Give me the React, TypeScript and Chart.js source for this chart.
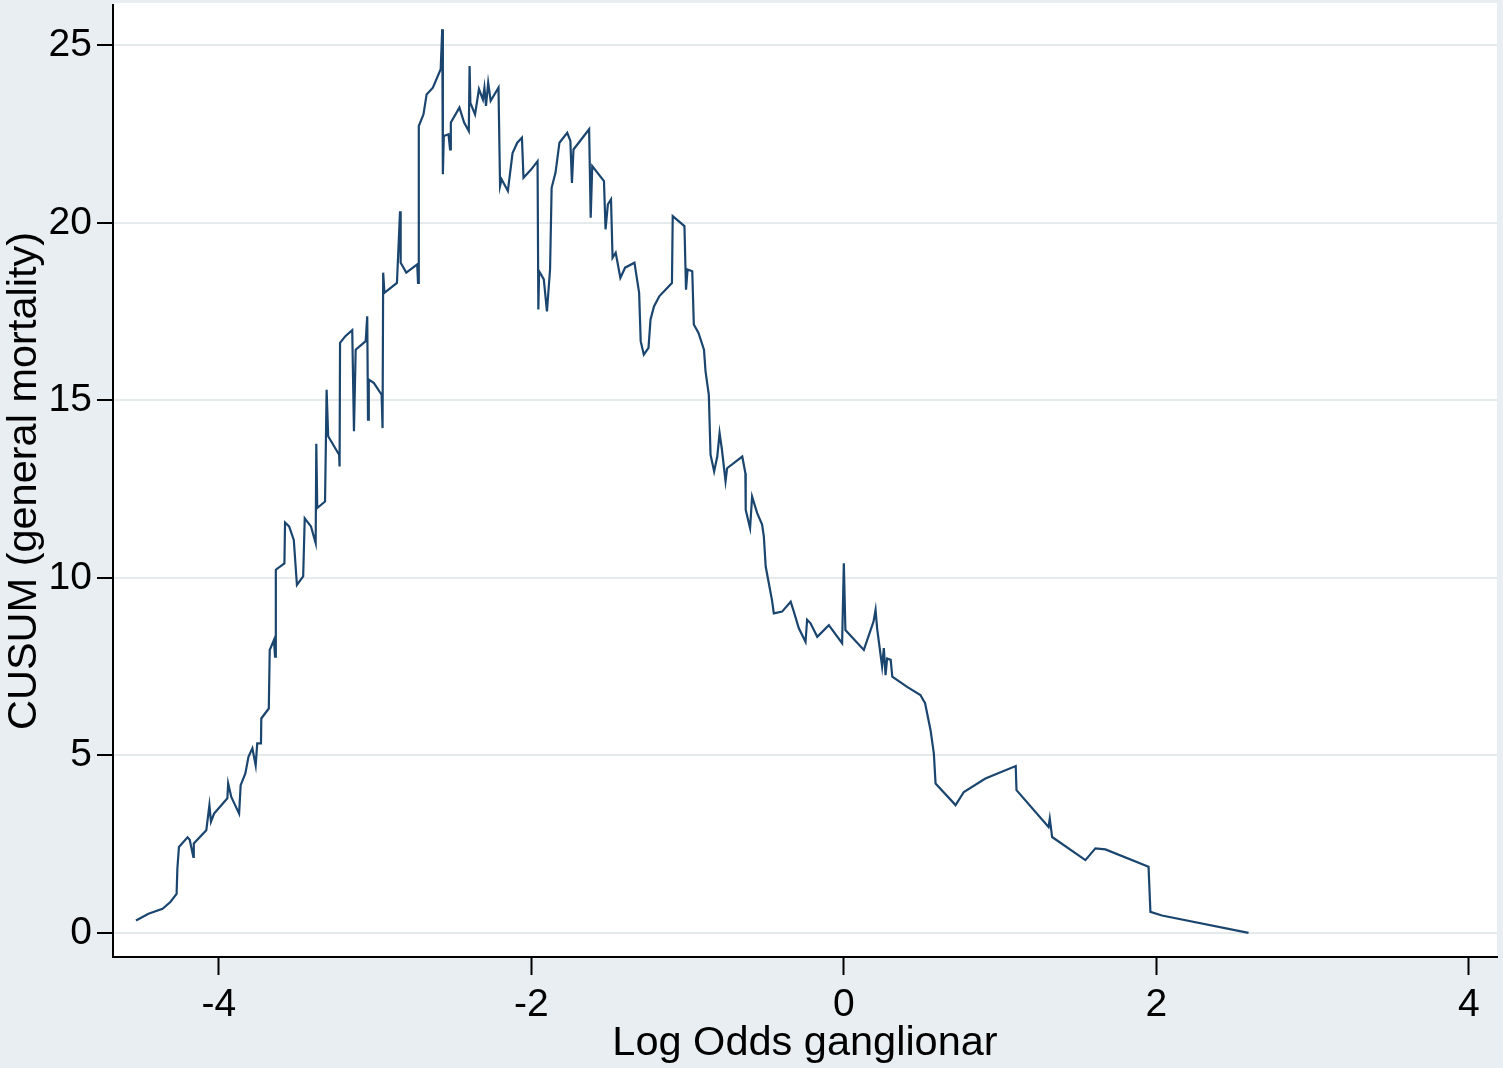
import React, { useEffect, useRef } from "react";
import { Chart, registerables } from "chart.js";

Chart.register(...registerables);

// Log odds (x) and CUSUM (y)
const logOdds = [
  -4.53, -4.45, -4.36, -4.31, -4.27, -4.265, -4.255, -4.2, -4.186, -4.163, -4.16, -4.08, -4.06, -4.05, -4.03,
  -3.945, -3.94, -3.92, -3.9, -3.87, -3.86, -3.83, -3.81, -3.785, -3.764, -3.754, -3.73, -3.728, -3.68, -3.674,
  -3.647, -3.64, -3.635, -3.58, -3.576, -3.55, -3.52, -3.5, -3.46, -3.45, -3.41, -3.38, -3.376, -3.37, -3.32,
  -3.31, -3.3, -3.23, -3.227, -3.224, -3.19, -3.146, -3.135, -3.124, -3.06, -3.05, -3.045, -3.04, -3.007, -2.958,
  -2.952, -2.948, -2.94, -2.86, -2.84, -2.836, -2.8, -2.73, -2.725, -2.72, -2.69, -2.67, -2.63, -2.58, -2.57,
  -2.566, -2.56, -2.53, -2.52, -2.515, -2.46, -2.43, -2.4, -2.395, -2.39, -2.36, -2.335, -2.31, -2.3, -2.29,
  -2.276, -2.26, -2.21, -2.2, -2.19, -2.15, -2.12, -2.09, -2.06, -2.05, -2.0, -1.96, -1.955, -1.95, -1.92,
  -1.9, -1.88, -1.87, -1.845, -1.82, -1.77, -1.75, -1.74, -1.73, -1.63, -1.62, -1.61, -1.535, -1.525, -1.51,
  -1.49, -1.48, -1.46, -1.43, -1.4, -1.34, -1.31, -1.3, -1.28, -1.25, -1.237, -1.215, -1.18, -1.1, -1.095,
  -1.02, -1.01, -1.0, -0.97, -0.96, -0.93, -0.895, -0.885, -0.864, -0.853, -0.83, -0.81, -0.795, -0.78, -0.757,
  -0.747, -0.65, -0.63, -0.628, -0.6, -0.587, -0.555, -0.523, -0.512, -0.5, -0.48, -0.46, -0.448, -0.395, -0.34,
  -0.32, -0.288, -0.245, -0.235, -0.213, -0.17, -0.096, -0.011, 0.0, 0.01, 0.128, 0.19, 0.203, 0.213, 0.245,
  0.256, 0.267, 0.277, 0.3, 0.31, 0.405, 0.49, 0.52, 0.555, 0.576, 0.587, 0.715, 0.768, 0.906, 1.1,
  1.105, 1.31, 1.318, 1.333, 1.546, 1.61, 1.674, 1.95, 1.962, 2.036, 2.59,
];

const cusum = [
  0.35, 0.54, 0.68, 0.87, 1.1, 1.81, 2.42, 2.69, 2.62, 2.14, 2.52, 2.89, 3.6, 3.13, 3.36,
  3.79, 4.21, 3.83, 3.64, 3.36, 4.16, 4.49, 4.96, 5.2, 4.72, 5.34, 5.34, 6.04, 6.32, 7.97,
  8.25, 7.78, 10.23, 10.41, 11.56, 11.45, 11.07, 9.8, 10.04, 11.68, 11.45, 10.98, 13.78, 11.97, 12.15,
  15.3, 13.99, 13.47, 13.14, 16.62, 16.81, 16.98, 14.13, 16.43, 16.67, 17.37, 14.46, 15.59, 15.49, 15.16,
  14.22, 18.6, 18.03, 18.31, 20.33, 18.88, 18.6, 18.83, 18.31, 22.73, 23.06, 23.62, 23.81, 24.33, 25.46,
  21.37, 22.45, 22.5, 22.07, 22.83, 23.25, 22.83, 22.59, 24.42, 23.38, 23.06, 23.77, 23.48, 23.81, 23.3,
  23.95, 23.44, 23.81, 21.04, 21.23, 20.9, 21.97, 22.26, 22.4, 21.27, 21.51, 21.74, 17.56, 18.64, 18.41,
  17.51, 18.69, 20.99, 21.42, 22.26, 22.54, 22.31, 21.13, 22.07, 22.64, 20.15, 21.6, 21.18, 19.82, 20.52,
  20.66, 19.02, 19.16, 18.45, 18.74, 18.88, 18.03, 16.67, 16.29, 16.48, 17.28, 17.65, 17.94, 18.31, 20.19,
  19.91, 18.12, 18.69, 18.64, 17.14, 16.9, 16.43, 15.82, 15.16, 13.47, 13.0, 13.42, 14.08, 13.61, 12.72,
  13.09, 13.42, 12.95, 11.92, 11.4, 12.29, 11.83, 11.5, 11.17, 10.32, 9.85, 9.38, 9.0, 9.05, 9.33,
  9.05, 8.58, 8.2, 8.82, 8.72, 8.34, 8.67, 8.16, 10.41, 8.53, 7.97, 8.77, 9.1, 8.58, 7.5,
  8.02, 7.26, 7.73, 7.69, 7.22, 6.93, 6.7, 6.47, 5.71, 5.06, 4.21, 3.6, 3.97, 4.35, 4.7,
  4.02, 2.98, 3.22, 2.7, 2.05, 2.38, 2.35, 1.86, 0.59, 0.49, 0.0,
];

const xTicks = [-4, -2, 0, 2, 4];
const yTicks = [0, 5, 10, 15, 20, 25];
const xTitle = "Log Odds ganglionar";
const yTitle = "CUSUM (general mortality)";

const FONT = "'Liberation Sans', Arial, Helvetica, sans-serif";

const plotBg = {
  id: "plotBg",
  beforeDraw(chart: any) {
    const { ctx, chartArea } = chart;
    ctx.save();
    ctx.fillStyle = "#ffffff";
    ctx.fillRect(chartArea.left, chartArea.top - 2, chartArea.right - chartArea.left, chartArea.bottom - chartArea.top + 2);
    ctx.restore();
  },
};

export default function App() {
  const ref = useRef<HTMLCanvasElement>(null);

  useEffect(() => {
    if (!ref.current) return;
    const chart = new Chart(ref.current, {
      type: "scatter",
      data: {
        datasets: [
          {
            data: logOdds.map((x, i) => ({ x, y: cusum[i] })),
            showLine: true,
            borderColor: "#1a456e",
            borderWidth: 2.2,
            pointRadius: 0,
            tension: 0,
            fill: false,
          },
        ],
      },
      options: {
        responsive: false,
        animation: false,
        layout: { padding: { left: 0, right: 6, top: 5, bottom: 0 } },
        plugins: { legend: { display: false }, tooltip: { enabled: false } },
        scales: {
          x: {
            type: "linear",
            min: -4.677,
            max: 4.18,
            afterBuildTicks: (s: any) => {
              s.ticks = xTicks.map((v) => ({ value: v }));
            },
            afterFit: (s: any) => {
              s.height = 111;
              s.paddingLeft = 0;
              s.paddingRight = 0;
            },
            grid: {
              drawOnChartArea: false,
              drawTicks: true,
              tickLength: 18,
              tickWidth: 2,
              tickColor: "#000",
            },
            border: { display: true, color: "#000", width: 2 },
            ticks: {
              color: "#000",
              font: { family: FONT, size: 39 },
              padding: 7,
              maxRotation: 0,
              callback: (v: any) => String(v),
            },
            title: {
              display: true,
              text: xTitle,
              color: "#000",
              font: { family: FONT, size: 41.5 },
              padding: { top: 0, bottom: 0 },
            },
          },
          y: {
            type: "linear",
            min: -0.68,
            max: 26.14,
            afterBuildTicks: (s: any) => {
              s.ticks = yTicks.map((v) => ({ value: v }));
            },
            afterFit: (s: any) => {
              s.width = 113;
              s.paddingTop = 0;
              s.paddingBottom = 0;
            },
            grid: {
              color: "#e5eaed",
              lineWidth: 2,
              drawTicks: true,
              tickLength: 16,
              tickWidth: 2,
              tickColor: "#000",
            },
            border: { display: true, color: "#000", width: 2 },
            ticks: {
              color: "#000",
              font: { family: FONT, size: 39 },
              padding: 5,
              callback: (v: any) => String(v),
            },
            title: {
              display: true,
              text: yTitle,
              color: "#000",
              font: { family: FONT, size: 41.5 },
              padding: { top: 0, bottom: 0 },
            },
          },
        },
      },
      plugins: [plotBg],
    });
    return () => chart.destroy();
  }, []);

  return (
    <div style={{ position: "absolute", left: 0, top: 0, width: 1503, height: 1068, background: "#e8eef2" }}>
      <canvas ref={ref} width={1503} height={1068} style={{ display: "block", width: 1503, height: 1068 }} />
    </div>
  );
}
